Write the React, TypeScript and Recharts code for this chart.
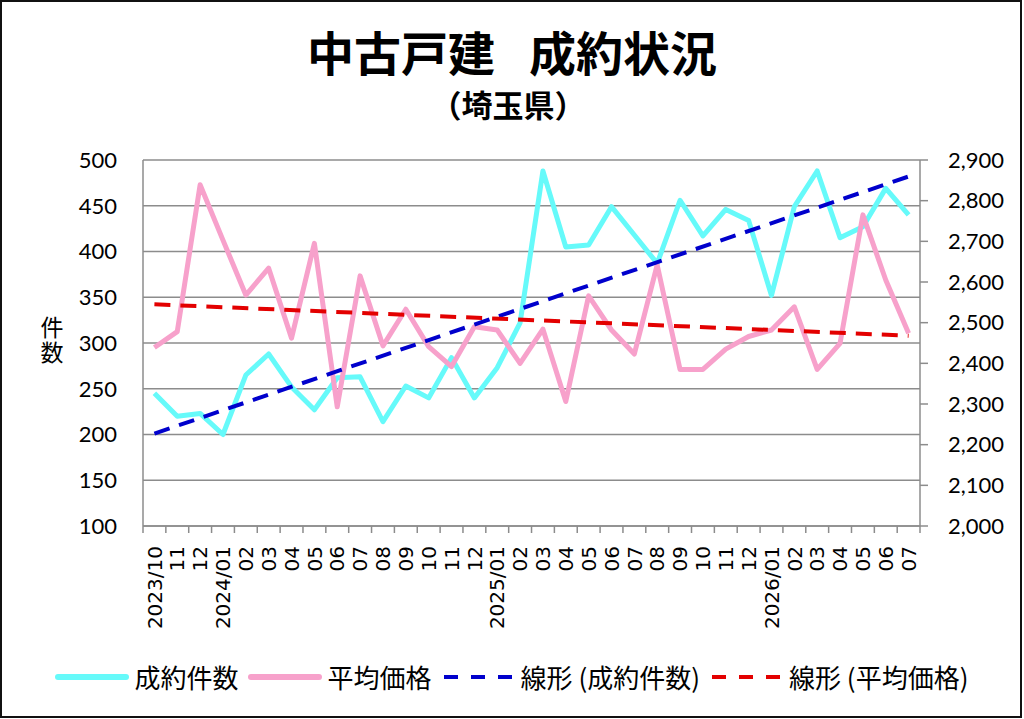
import React from "react";
import { LineChart, Line, XAxis, YAxis, CartesianGrid, ReferenceLine } from "recharts";

// 2023/10 - 2026/07
const months = [
  "2023/10", "2023/11", "2023/12",
  "2024/01", "2024/02", "2024/03", "2024/04", "2024/05", "2024/06",
  "2024/07", "2024/08", "2024/09", "2024/10", "2024/11", "2024/12",
  "2025/01", "2025/02", "2025/03", "2025/04", "2025/05", "2025/06",
  "2025/07", "2025/08", "2025/09", "2025/10", "2025/11", "2025/12",
  "2026/01", "2026/02", "2026/03", "2026/04", "2026/05", "2026/06", "2026/07",
];

// 成約件数 (left axis)
const counts = [
  245, 220, 223,
  200, 265, 288, 252, 227, 262, 263, 214, 253, 240, 284, 240,
  273, 322, 488, 405, 407, 449, 418, 387, 456, 417, 446, 434,
  352, 449, 488, 415, 427, 469, 440,
];

// 平均価格 (right axis)
const prices = [
  2439, 2478, 2839,
  2703, 2568, 2634, 2462, 2695, 2293, 2615, 2443, 2533, 2441, 2392, 2490,
  2482, 2400, 2484, 2306, 2566, 2482, 2423, 2642, 2385, 2385, 2435, 2466,
  2482, 2539, 2385, 2449, 2765, 2605, 2474,
];

// trend line ends, first and last month
const countTrend = [201, 482];
const priceTrend = [2545, 2468];

const countTicks = [100, 150, 200, 250, 300, 350, 400, 450, 500];
const priceTicks = [2000, 2100, 2200, 2300, 2400, 2500, 2600, 2700, 2800, 2900];

const CYAN = "#66FAFA";
const PINK = "#F7A1CB";
const BLUE = "#0000CC";
const RED = "#E30000";
const GRID = "#8C8C8C";
const JP = '"Noto Sans CJK JP", "Noto Sans", sans-serif';
const NUM = "Lato, 'Open Sans', sans-serif";

const HALF = 11.4; // half of one month slot

const data = months.map((m, i) => ({ month: m, count: counts[i], price: prices[i] }));

const legendItems = [
  { label: "成約件数", color: CYAN, dashed: false },
  { label: "平均価格", color: PINK, dashed: false },
  { label: "線形 (成約件数)", color: BLUE, dashed: true },
  { label: "線形 (平均価格)", color: RED, dashed: true },
];

function MonthTick(props: any) {
  const { x, y, payload } = props;
  const index = props.index ?? payload.index;
  const v: string = payload.value;
  const label = index === 0 || v.endsWith("/01") ? v : v.slice(5);
  const ty = y + 20;
  return (
    <g>
      <line x1={x - HALF} x2={x - HALF} y1={y} y2={y + 7} stroke={GRID} strokeWidth={1.5} />
      {index === months.length - 1 && (
        <line x1={x + HALF} x2={x + HALF} y1={y} y2={y + 7} stroke={GRID} strokeWidth={1.5} />
      )}
      <text
        x={x}
        y={ty}
        transform={`rotate(-90 ${x} ${ty})`}
        textAnchor="end"
        dy="0.36em"
        fontSize={20}
        fontFamily="'DejaVu Sans', sans-serif"
        fill="#000"
      >
        {label}
      </text>
    </g>
  );
}

export default function App() {
  return (
    <div style={{ position: "absolute", left: 0, top: 0, width: 1024, height: 719, background: "#fff" }}>
      <LineChart
        width={1024}
        height={719}
        data={data}
        margin={{ top: 160, right: 4, bottom: 93, left: 73 }}
      >
        <CartesianGrid yAxisId="left" vertical={false} stroke={GRID} strokeWidth={1.5} />
        <XAxis
          dataKey="month"
          interval={0}
          height={100}
          padding={{ left: HALF, right: HALF }}
          tickLine={false}
          tickSize={0}
          tickMargin={0}
          axisLine={{ stroke: GRID, strokeWidth: 1.5 }}
          tick={<MonthTick />}
        />
        <YAxis
          yAxisId="left"
          width={70}
          domain={[100, 500]}
          ticks={countTicks}
          interval={0}
          tickLine={false}
          tickSize={0}
          tickMargin={26}
          axisLine={{ stroke: GRID, strokeWidth: 1.5 }}
          tick={{ fill: "#000", fontSize: 22, fontFamily: NUM }}
        />
        <YAxis
          yAxisId="right"
          orientation="right"
          width={100}
          domain={[2000, 2900]}
          ticks={priceTicks}
          interval={0}
          tickSize={8}
          tickMargin={20}
          tickLine={{ stroke: GRID, strokeWidth: 1.5 }}
          axisLine={{ stroke: GRID, strokeWidth: 1.5 }}
          tickFormatter={(v: number) => v.toLocaleString("en-US")}
          tick={{ fill: "#000", fontSize: 22, fontFamily: NUM }}
        />
        <Line
          yAxisId="left"
          dataKey="count"
          stroke={CYAN}
          strokeWidth={5}
          dot={false}
          strokeLinejoin="round"
          isAnimationActive={false}
        />
        <Line
          yAxisId="right"
          dataKey="price"
          stroke={PINK}
          strokeWidth={5}
          dot={false}
          strokeLinejoin="round"
          isAnimationActive={false}
        />
        <ReferenceLine
          yAxisId="left"
          segment={[
            { x: months[0], y: countTrend[0] },
            { x: months[months.length - 1], y: countTrend[1] },
          ]}
          stroke={BLUE}
          strokeWidth={4}
          strokeDasharray="16 10"
        />
        <ReferenceLine
          yAxisId="right"
          segment={[
            { x: months[0], y: priceTrend[0] },
            { x: months[months.length - 1], y: priceTrend[1] },
          ]}
          stroke={RED}
          strokeWidth={4}
          strokeDasharray="16 10"
        />
      </LineChart>

      <div
        style={{
          position: "absolute",
          left: 0,
          top: 24,
          width: 1024,
          textAlign: "center",
          fontFamily: JP,
          fontWeight: 700,
          fontSize: 47,
          lineHeight: "54px",
          color: "#000",
        }}
      >
        中古戸建<span style={{ display: "inline-block", width: 34 }} />成約状況
      </div>
      <div
        style={{
          position: "absolute",
          left: -4,
          top: 85,
          width: 1024,
          textAlign: "center",
          fontFamily: JP,
          fontWeight: 700,
          fontSize: 31,
          lineHeight: "38px",
          color: "#000",
        }}
      >
        （埼玉県）
      </div>

      <div
        style={{
          position: "absolute",
          left: 38,
          top: 316,
          writingMode: "vertical-rl",
          fontFamily: JP,
          fontSize: 23,
          lineHeight: "28px",
          letterSpacing: 2,
          color: "#000",
        }}
      >
        件数
      </div>

      <div
        style={{
          position: "absolute",
          left: 0,
          top: 660,
          width: 1032,
          display: "flex",
          justifyContent: "center",
          alignItems: "center",
          fontFamily: JP,
          fontSize: 26,
          lineHeight: "34px",
          color: "#000",
        }}
      >
        {legendItems.map((item) => (
          <div key={item.label} style={{ display: "flex", alignItems: "center", marginRight: 9 }}>
            <svg width={74} height={10} style={{ marginRight: 6 }}>
              <line
                x1={3}
                x2={71}
                y1={5}
                y2={5}
                stroke={item.color}
                strokeWidth={item.dashed ? 4 : 6}
                strokeLinecap={item.dashed ? "butt" : "round"}
                strokeDasharray={item.dashed ? "14 13" : undefined}
              />
            </svg>
            <span>{item.label}</span>
          </div>
        ))}
      </div>

      <div
        style={{
          position: "absolute",
          left: 0,
          top: 0,
          width: 1022,
          height: 718,
          border: "2.5px solid #111",
          boxSizing: "border-box",
          pointerEvents: "none",
        }}
      />
    </div>
  );
}
